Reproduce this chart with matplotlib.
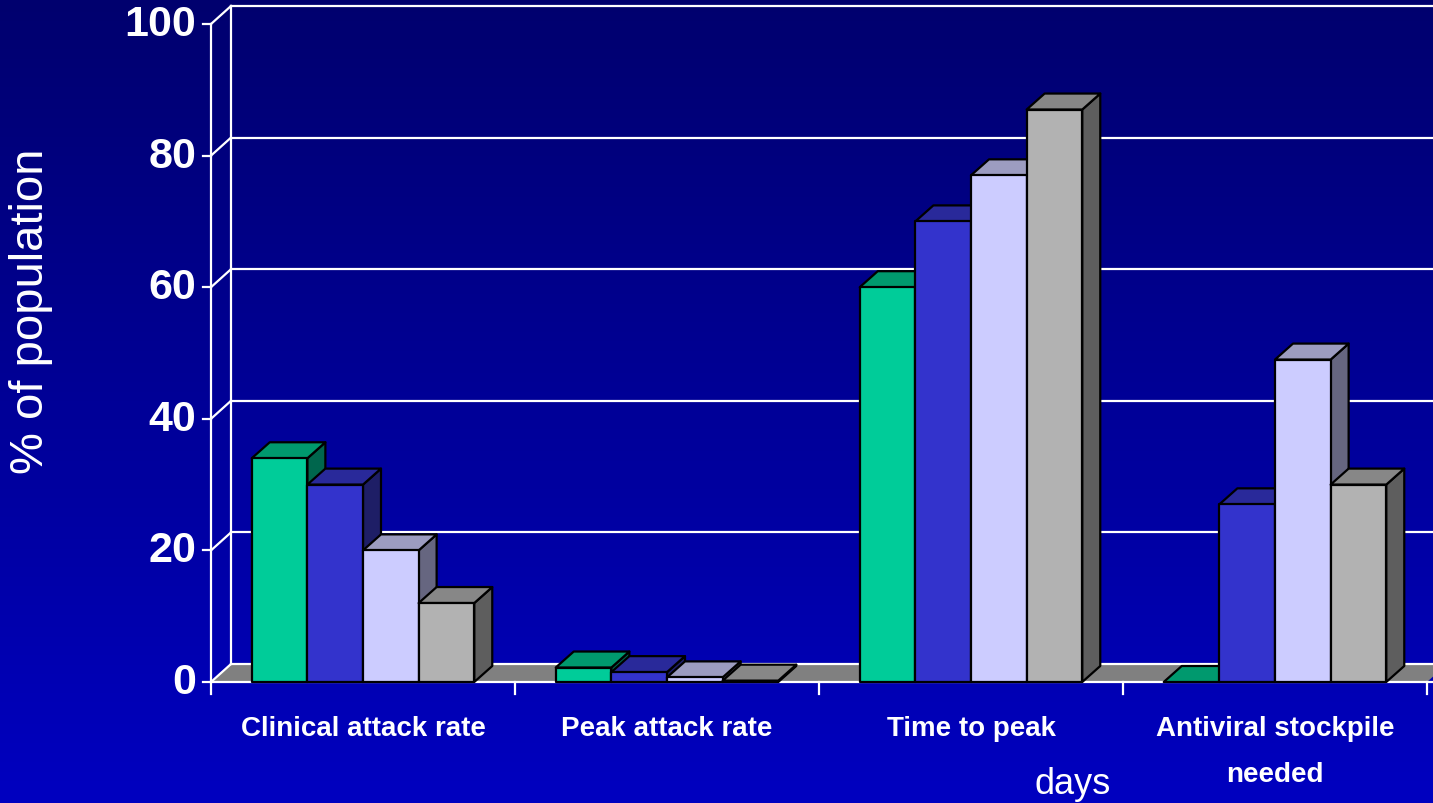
import matplotlib.pyplot as plt
from matplotlib.patches import Polygon
import numpy as np

# data
categories = ['Clinical attack rate', 'Peak attack rate', 'Time to peak', 'Antiviral stockpile\nneeded']
series_1 = [34, 2.2, 60, 0]
series_2 = [30, 1.5, 70, 27]
series_3 = [20, 0.7, 77, 49]
series_4 = [12, 0.2, 87, 30]
y_ticks = [0, 20, 40, 60, 80, 100]

front_cols = ['#00CC99', '#3333CC', '#CCCCFF', '#B2B2B2']
top_cols = ['#00996E', '#29299A', '#9C9CC0', '#878787']
side_cols = ['#00664D', '#1E1E66', '#666680', '#5E5E5E']

W, H = 1433, 804
fig = plt.figure(figsize=(W / 100, H / 100), dpi=100)

# background gradient
bg = fig.add_axes([0, 0, 1, 1])
grad = np.linspace(0, 1, 256).reshape(-1, 1)
c0 = np.array([0, 0, 0x6E]) / 255
c1 = np.array([0, 0, 0xC0]) / 255
img = c0 + (c1 - c0) * grad[:, :, None]
bg.imshow(img, aspect='auto', extent=[0, 1, 0, 1], origin='upper')
bg.axis('off')

cat_px = 304.0
ax = fig.add_axes([211 / W, (H - 683) / H, (W - 211) / W, 658 / H])
ax.set_xlim(0, (W - 211) / cat_px)
ax.set_ylim(0, 100)
ax.axis('off')
ax.patch.set_visible(False)

px_x = 1 / cat_px
px_y = 100 / 658
wdx, wdy = 20 * px_x, 18 * px_y   # wall depth
bdx, bdy = 18 * px_x, 16 * px_y   # bar depth
n = len(categories)
bold_font = ['Liberation Sans Narrow', 'Liberation Sans']

# floor
ax.add_patch(Polygon([(0, 0), (wdx, wdy), (n + wdx, wdy), (n, 0)], closed=True,
                     facecolor='#808080', edgecolor='none', zorder=1, clip_on=False))

# back wall gridlines and axes
for v in y_ticks:
    ax.plot([wdx, n + wdx], [v + wdy, v + wdy], color='white', lw=1.6, zorder=2, clip_on=False)
    ax.plot([0, wdx], [v, v + wdy], color='white', lw=1.6, zorder=2, clip_on=False)
    ax.plot([-8 * px_x, 0], [v, v], color='white', lw=1.6, zorder=2, clip_on=False)
    ax.text(-15 * px_x, v, str(v), ha='right', va='center', color='white', fontsize=31,
            fontweight='bold', family=bold_font, clip_on=False)
ax.plot([wdx, wdx], [wdy, 100 + wdy], color='white', lw=1.6, zorder=2, clip_on=False)
ax.plot([0, 0], [0, 100], color='white', lw=1.6, zorder=2, clip_on=False)
ax.plot([0, n + 0.1], [0, 0], color='white', lw=1.6, zorder=2, clip_on=False)
for i in range(n + 1):
    ax.plot([i, i], [0, -12 * px_y], color='white', lw=1.6, zorder=2, clip_on=False)

# 3D bars
bw = 0.183
series = [series_1, series_2, series_3, series_4]
z = 3
for i in range(n):
    x_start = i + 0.5 - 2 * bw
    for j, s in enumerate(series):
        v = s[i]
        x0 = x_start + j * bw
        x1 = x0 + bw
        kw = dict(closed=True, edgecolor='black', lw=1.6, joinstyle='round', clip_on=False)
        ax.add_patch(Polygon([(x1, 0), (x1 + bdx, bdy), (x1 + bdx, v + bdy), (x1, v)],
                             facecolor=side_cols[j], zorder=z, **kw))
        ax.add_patch(Polygon([(x0, v), (x0 + bdx, v + bdy), (x1 + bdx, v + bdy), (x1, v)],
                             facecolor=top_cols[j], zorder=z, **kw))
        if v > 0:
            ax.add_patch(Polygon([(x0, 0), (x0, v), (x1, v), (x1, 0)],
                                 facecolor=front_cols[j], zorder=z, **kw))
        z += 1

# category labels
for i, lab in enumerate(categories):
    ax.annotate(lab, (i + 0.5, 0), xytext=(0, -33 * 0.72), textcoords='offset points',
                ha='center', va='top', color='white', fontsize=20, fontweight='bold',
                linespacing=2.0, family=bold_font, annotation_clip=False)

fig.text(1073 / W, 1 - 785 / H, 'days', ha='center', va='center', color='white',
         fontsize=26, family=['Liberation Sans', 'DejaVu Sans'])
fig.text(31 / W, 1 - 311 / H, '% of population', ha='center', va='center', rotation=90,
         color='white', fontsize=34, family=['Liberation Sans', 'DejaVu Sans'])

fig.savefig('out.png', dpi=100)
